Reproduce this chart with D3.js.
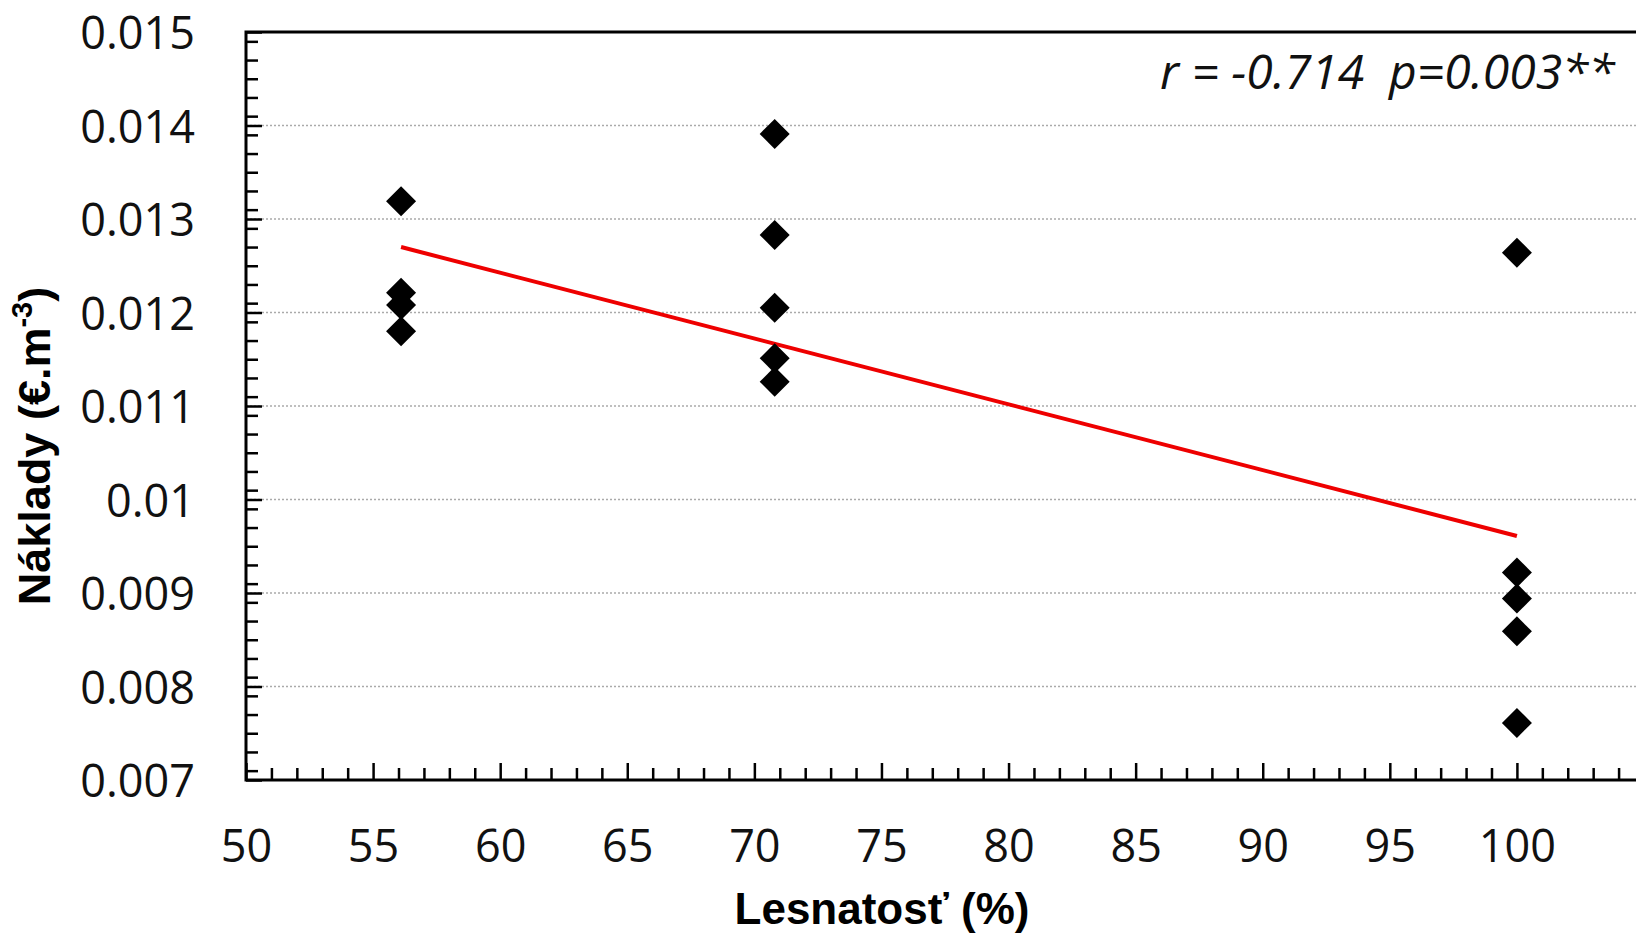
<!DOCTYPE html>
<html lang="sk">
<head>
    <meta charset="UTF-8">
    <title>Náklady vs Lesnatosť</title>
    <script src="https://d3js.org/d3.v7.min.js"></script>
    <style>
        body {
            margin: 0;
            background: white;
            overflow: hidden;
        }
        svg {
            display: block;
        }
        .tick text {
            font-family: "Open Sans", sans-serif;
            font-size: 45px;
            fill: #111;
        }
        .axis-title {
            font-family: "Liberation Sans", Arial, sans-serif;
            font-size: 44px;
            font-weight: bold;
        }
        .grid line {
            stroke: #aaaaaa;
            stroke-width: 1.5;
            stroke-dasharray: 2, 2;
        }
    </style>
</head>
<body>
    <svg width="1636" height="936"></svg>
    <script>
        // lesnatosť (%) and náklady (€.m-3)
        const lesnatost = [56.1, 56.1, 56.1, 56.1,
                           70.8, 70.8, 70.8, 70.8, 70.8,
                           100, 100, 100, 100, 100];
        const naklady = [0.01319, 0.01221, 0.01208, 0.01180,
                         0.01391, 0.01283, 0.01205, 0.01151, 0.01126,
                         0.01264, 0.00922, 0.00894, 0.00859, 0.00761];

        // red regression line, end points as drawn
        const trendX = [56.1, 100];
        const trendY = [0.01270, 0.00961];

        const xTicks = [50, 55, 60, 65, 70, 75, 80, 85, 90, 95, 100, 105];
        const xLabels = ["50", "55", "60", "65", "70", "75", "80", "85", "90", "95", "100", ""];
        const yTicks = [0.007, 0.008, 0.009, 0.01, 0.011, 0.012, 0.013, 0.014, 0.015];
        const yLabels = ["0.007", "0.008", "0.009", "0.01", "0.011", "0.012", "0.013", "0.014", "0.015"];
        const gridTicks = [0.008, 0.009, 0.01, 0.011, 0.012, 0.013, 0.014];

        const svg = d3.select("svg");
        const margin = { top: 32, left: 246, bottom: 780, right: 1644 };

        const x = d3.scaleLinear()
            .domain([50, 105])
            .range([margin.left, margin.right]);

        const y = d3.scaleLinear()
            .domain([0.007, 0.015])
            .range([margin.bottom, margin.top]);

        // dotted horizontal grid
        svg.append("g")
            .attr("class", "grid")
            .selectAll("line")
            .data(gridTicks)
            .enter()
            .append("line")
            .attr("x1", margin.left)
            .attr("x2", margin.right)
            .attr("y1", d => y(d))
            .attr("y2", d => y(d));

        // minor ticks (inside)
        const xMinor = d3.range(51, 105, 1).filter(v => v % 5 !== 0);
        const yMinor = d3.range(71, 150, 2).filter(v => v % 10 !== 0).map(v => v / 10000);

        svg.append("g")
            .attr("transform", `translate(0,${margin.bottom})`)
            .call(d3.axisBottom(x).tickValues(xMinor).tickSize(-12).tickFormat(""))
            .call(g => g.select(".domain").remove())
            .selectAll("line").attr("stroke", "#000").attr("stroke-width", 2.5);

        svg.append("g")
            .attr("transform", `translate(${margin.left},0)`)
            .call(d3.axisLeft(y).tickValues(yMinor).tickSize(-12).tickFormat(""))
            .call(g => g.select(".domain").remove())
            .selectAll("line").attr("stroke", "#000").attr("stroke-width", 2.5);

        // major ticks with labels
        svg.append("g")
            .attr("transform", `translate(0,${margin.bottom})`)
            .call(d3.axisBottom(x).tickValues(xTicks).tickSize(-17).tickSizeOuter(0).tickPadding(50)
                .tickFormat((d, i) => xLabels[i]))
            .call(g => g.select(".domain").remove())
            .selectAll("line").attr("stroke", "#000").attr("stroke-width", 2.5);

        svg.append("g")
            .attr("transform", `translate(${margin.left},0)`)
            .call(d3.axisLeft(y).tickValues(yTicks).tickSize(-16).tickSizeOuter(0).tickPadding(51)
                .tickFormat((d, i) => yLabels[i]))
            .call(g => g.select(".domain").remove())
            .call(g => g.selectAll("text").attr("dy", "0.37em"))
            .selectAll("line").attr("stroke", "#000").attr("stroke-width", 2.5);

        // frame
        svg.append("rect")
            .attr("x", margin.left)
            .attr("y", margin.top)
            .attr("width", margin.right - margin.left)
            .attr("height", margin.bottom - margin.top)
            .attr("fill", "none")
            .attr("stroke", "#000")
            .attr("stroke-width", 3);

        // trend line
        svg.append("line")
            .attr("x1", x(trendX[0]))
            .attr("y1", y(trendY[0]))
            .attr("x2", x(trendX[1]))
            .attr("y2", y(trendY[1]))
            .attr("stroke", "#ee0000")
            .attr("stroke-width", 4);

        // diamonds
        const diamond = d3.symbol().type(d3.symbolSquare).size(450);
        svg.selectAll(".pt")
            .data(lesnatost)
            .enter()
            .append("path")
            .attr("class", "pt")
            .attr("d", diamond)
            .attr("fill", "#000")
            .attr("transform", (d, i) => `translate(${x(d)},${y(naklady[i])}) rotate(45)`);

        // annotation
        svg.append("text")
            .attr("x", 1160)
            .attr("y", 89)
            .attr("font-family", "'Open Sans', sans-serif")
            .attr("font-style", "italic")
            .attr("font-size", 48)
            .attr("fill", "#111")
            .attr("xml:space", "preserve")
            .text("r = -0.714  p=0.003**");

        // axis titles
        svg.append("text")
            .attr("class", "axis-title")
            .attr("x", 882)
            .attr("y", 924)
            .attr("text-anchor", "middle")
            .text("Lesnatosť (%)");

        const yTitle = svg.append("text")
            .attr("class", "axis-title")
            .attr("font-size", 45)
            .style("font-size", "45px")
            .attr("transform", "translate(50,446) rotate(-90)")
            .attr("text-anchor", "middle");
        yTitle.append("tspan").text("Náklady (€.m");
        yTitle.append("tspan").style("font-size", "29px").attr("dy", -18).text("-3");
        yTitle.append("tspan").attr("dy", 18).text(")");
    </script>
</body>
</html>
